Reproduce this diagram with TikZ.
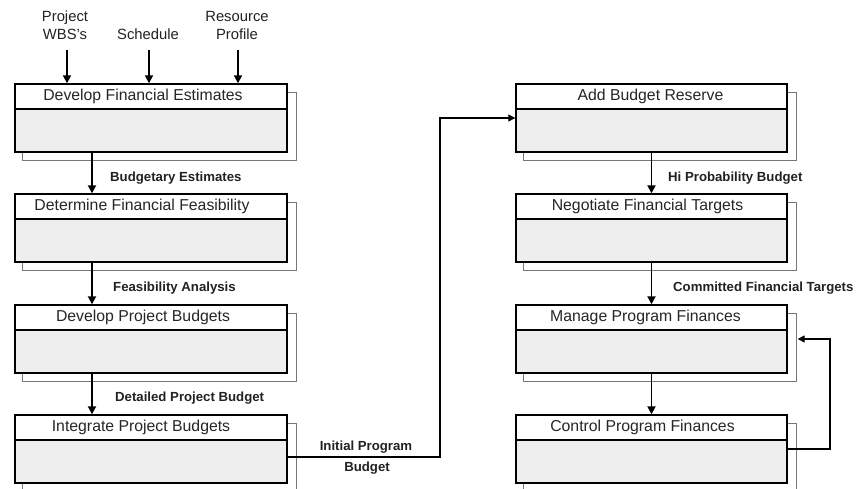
\documentclass[tikz,border=0pt]{standalone}
\usepackage{fontspec}
\setmainfont{Liberation Sans}
\usetikzlibrary{arrows.meta,backgrounds}
\definecolor{boxgray}{HTML}{EEEEEE}
\definecolor{shadowgray}{HTML}{777777}
\definecolor{txt}{HTML}{222222}
\tikzset{
  procbox/.style={draw=black, line width=1.4pt, minimum width=272pt, minimum height=68pt, inner sep=0pt, fill=boxgray,
    path picture={
      \fill[white] (path picture bounding box.north west) rectangle ([yshift=-25pt]path picture bounding box.north east);
      \draw[line width=1.4pt] ([yshift=-25pt]path picture bounding box.north west) -- ([yshift=-25pt]path picture bounding box.north east);
    }},
  shadowbox/.style={draw=shadowgray, line width=1.5pt},
  titletext/.style={font=\fontsize{15.8}{19}\selectfont, text=black!85, inner sep=0pt},
  flowlabel/.style={font=\fontsize{13.2}{16}\selectfont\bfseries, text=txt, inner sep=0pt, anchor=west},
  inlabel/.style={font=\fontsize{14.8}{18}\selectfont, text=txt, inner sep=0pt, align=center},
  arr/.style={line width=1.8pt, -{Triangle[length=8pt,width=8pt]}},
  thinarr/.style={line width=1.2pt, -{Triangle[length=7pt,width=7pt]}},
}
\begin{document}
\begin{tikzpicture}[x=1pt,y=-1pt]
\useasboundingbox (0,0) rectangle (857,489);
% left column
\node[procbox] (b1) at (151,118) {};
\node[procbox] (b2) at (151,228) {};
\node[procbox] (b3) at (151,339) {};
\node[procbox] (b4) at (151,449) {};
% right column
\node[procbox, minimum width=271pt] (r1) at (651.5,118) {};
\node[procbox, minimum width=271pt] (r2) at (651.5,228) {};
\node[procbox, minimum width=271pt] (r3) at (651.5,339) {};
\node[procbox, minimum width=271pt] (r4) at (651.5,449) {};
\begin{scope}[on background layer]
  \fill[white] (0,0) rectangle (857,489);
  \foreach \b in {b1,b2,b3,b4,r1,r2,r3,r4}{
    \draw[shadowbox] ([xshift=8pt,yshift=-9pt]\b.north west) rectangle ([xshift=9pt,yshift=-8pt]\b.south east);
  }
\end{scope}
% titles
\node[titletext] (t1) at ([xshift=-8pt,yshift=-13pt]b1.north) {Develop Financial Estimates};
\node[titletext] (t2) at ([xshift=-9pt,yshift=-13pt]b2.north) {Determine Financial Feasibility};
\node[titletext] (t3) at ([xshift=-8pt,yshift=-13pt]b3.north) {Develop Project Budgets};
\node[titletext] (t4) at ([xshift=-10pt,yshift=-13pt]b4.north) {Integrate Project Budgets};
\node[titletext] (t5) at ([xshift=-1pt,yshift=-13pt]r1.north) {Add Budget Reserve};
\node[titletext] (t6) at ([xshift=-4pt,yshift=-13pt]r2.north) {Negotiate Financial Targets};
\node[titletext] (t7) at ([xshift=-6pt,yshift=-13pt]r3.north) {Manage Program Finances};
\node[titletext] (t8) at ([xshift=-9pt,yshift=-13pt]r4.north) {Control Program Finances};
% inputs
\node[inlabel] (in1) at (65,25) {Project\\WBS's};
\node[inlabel] (in2) at (148,34) {Schedule};
\node[inlabel] (in3) at (237,25) {Resource\\Profile};
\coordinate (i1) at (67,50);
\coordinate (i2) at (149,50);
\coordinate (i3) at (238,50);
\draw[arr] (i1) -- (i1 |- b1.north);
\draw[arr] (i2) -- (i2 |- b1.north);
\draw[arr] (i3) -- (i3 |- b1.north);
% left flow
\coordinate (axL) at (92,0);
\draw[arr] (b1.south -| axL) -- (b2.north -| axL);
\draw[arr] (b2.south -| axL) -- (b3.north -| axL);
\draw[arr] (b3.south -| axL) -- (b4.north -| axL);
\node[flowlabel] (l1) at (110,178) {Budgetary Estimates};
\node[flowlabel] (l2) at (113,288) {Feasibility Analysis};
\node[flowlabel] (l3) at (115,398) {Detailed Project Budget};
% right flow
\draw[arr] (r1.south) -- (r2.north);
\draw[arr] (r2.south) -- (r3.north);
\draw[arr] (r3.south) -- (r4.north);
\node[flowlabel] (l4) at (668,178) {Hi Probability Budget};
\node[flowlabel] (l5) at (673,288) {Committed Financial Targets};
% initial program budget
\coordinate (c1) at (440,120);
\draw[thinarr] ([yshift=-8pt]b4.east) -| (c1) |- (r1.west);
\node[flowlabel, anchor=center] (l6a) at (366,447) {Initial Program};
\node[flowlabel, anchor=center] (l6b) at (367,468) {Budget};
% feedback
\coordinate (c2) at (830,400);
\draw[thinarr, line width=1.4pt] (r4.east) -| (c2) |- ([xshift=10pt]r3.east);
\end{tikzpicture}
\end{document}
